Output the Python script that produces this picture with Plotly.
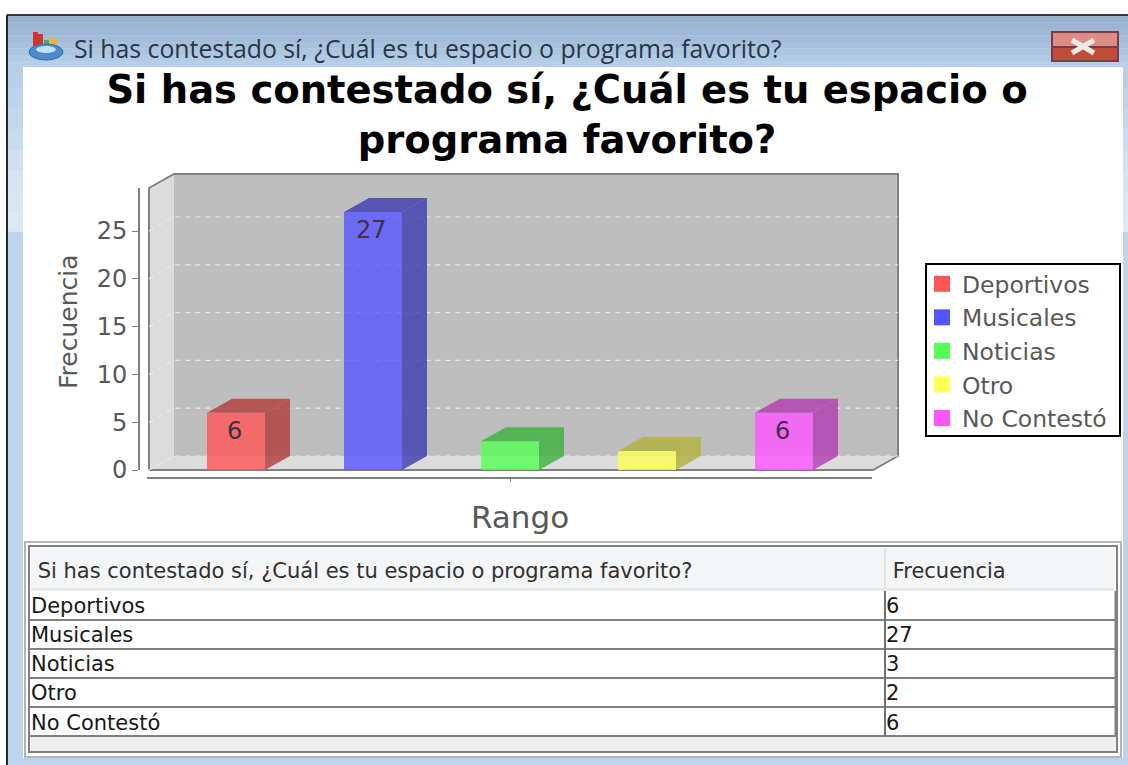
import plotly.graph_objects as go

# ---- data ----
categories = ["Deportivos", "Musicales", "Noticias", "Otro", "No Contestó"]
frecuencia = [6, 27, 3, 2, 6]
front_rgb = ["255,85,85", "85,85,255", "85,255,85", "255,255,85", "255,85,255"]
dark_rgb = ["178,59,59", "59,59,178", "59,178,59", "178,178,59", "178,59,178"]
y_ticks = [0, 5, 10, 15, 20, 25]
title_text = "Si has contestado sí, ¿Cuál es tu espacio o programa favorito?"
title_lines = "Si has contestado sí, ¿Cuál es tu espacio o<br>programa favorito?"
header_row = ["Si has contestado sí, ¿Cuál es tu espacio o programa favorito?", "Frecuencia"]

# ---- geometry ----
W, H = 1128, 765
FONT = "DejaVu Sans"
GREY = "#585858"
PX_CAT, PX_UNIT = 137.0, 9.56        # pixels per category / per value unit
X_ZERO_PX, Y_ZERO_PX = 236.0, 470.0  # pixel of first category / value 0
DX, DY = 25 / PX_CAT, 14 / PX_UNIT   # 3-D depth in data units
BAR_W = 58 / PX_CAT


def xdata(px):
    return (px - X_ZERO_PX) / PX_CAT


def ydata(px):
    return (Y_ZERO_PX - px) / PX_UNIT


def px(x):
    return x / W


def py(y):
    return 1 - y / H


X0, X1 = xdata(149), xdata(873)
Y_TOP = ydata(188)

fig = go.Figure()

shapes = []


def rect(x0, y0, x1, y1, fill, line=None, lw=0, layer="below"):
    shapes.append(dict(type="rect", xref="paper", yref="paper", x0=px(x0), x1=px(x1),
                       y0=py(y0), y1=py(y1), fillcolor=fill, layer=layer,
                       line=dict(color=line or fill, width=lw)))


def line(x0, y0, x1, y1, color, w=1, layer="below"):
    shapes.append(dict(type="line", xref="paper", yref="paper", x0=px(x0), x1=px(x1),
                       y0=py(y0), y1=py(y1), layer=layer, line=dict(color=color, width=w)))


# ---- window chrome ----
rect(6, 14, 1128, 765, "#BCD4EC")
band_cols = ["#98B2D0", "#9BB5D2", "#9FB8D5", "#A3BCD8", "#A8C1DC", "#ADC6E0", "#B2CBE5", "#B7D0E9"]
for i, c in enumerate(band_cols):
    rect(8, 16 + i * 6.5, 1128, 16 + (i + 1) * 6.5, c)
side_cols = ["#B7D0E9", "#BCD4EB", "#C2D8ED", "#C8DCEF", "#CEE0F1", "#D4E4F3", "#D9E7F4", "#DCE9F5"]
for i, c in enumerate(side_cols):
    rect(8, 67 + i * 20.6, 23, 67 + (i + 1) * 20.6, c)
    rect(1123, 67 + i * 20.6, 1128, 67 + (i + 1) * 20.6, c)
line(7, 15, 1128, 15, "#3A3A3A", 2)
line(7, 15, 7, 765, "#2A2A2A", 2)
rect(23, 67, 1123, 758, "#FFFFFF")

# icon
rect(33, 32, 38, 46, "#D83030")
rect(38, 34, 43, 46, "#C83838")
rect(44, 40, 49, 46, "#60A060")
rect(50, 38, 57, 46, "#F0B030")
shapes.append(dict(type="circle", xref="paper", yref="paper", x0=px(29), x1=px(63), y0=py(44), y1=py(60),
                   fillcolor="#4C8CCC", line=dict(color="#3070B0", width=1), layer="below"))
shapes.append(dict(type="circle", xref="paper", yref="paper", x0=px(36), x1=px(56), y0=py(46), y1=py(53),
                   fillcolor="#C4E0F4", line=dict(width=0), layer="below"))

# close button
rect(1052, 32, 1118, 47, "#DD8C84", "#7A3A48", 2)
rect(1052, 47, 1118, 61, "#C04C3A", "#7A3A48", 2)
line(1072, 40, 1094, 53, "#ECE8E4", 5)
line(1094, 40, 1072, 53, "#ECE8E4", 5)

# legend box
rect(926, 264, 1120, 436, "#FFFFFF", "#000000", 2)

# ---- table frame ----
rect(25, 542, 1121, 757, "#FFFFFF", "#B4B4B4", 2)
rect(29, 546, 1117, 752, "#FFFFFF", "#808080", 2)
rect(31, 548, 1115, 588, "#F3F5F7")
rect(31, 588, 1115, 591, "#E6E8EA")
rect(884, 548, 886, 588, "#E0E2E4")
rect(31, 737, 1116, 751, "#EEEEEE")
for y_line in [620, 649, 678, 707, 736]:
    line(30, y_line, 1116, y_line, "#808080", 2)
line(885, 591, 885, 736, "#707070", 2)
line(1116, 591, 1116, 736, "#808080", 3)

# ---- pseudo 3-D plot box, in data coordinates ----


def poly(pts, fill, lw=0, lc="#808080"):
    path = "M " + " L ".join(f"{a},{b}" for a, b in pts) + " Z"
    shapes.append(dict(type="path", xref="x", yref="y", path=path, fillcolor=fill, layer="below",
                       line=dict(color=lc, width=lw)))


def stroke(pts, color="#808080", lw=2, dash="solid"):
    path = "M " + " L ".join(f"{a},{b}" for a, b in pts)
    shapes.append(dict(type="path", xref="x", yref="y", path=path, layer="below",
                       line=dict(color=color, width=lw, dash=dash)))


poly([(X0 + DX, DY), (X1 + DX, DY), (X1 + DX, Y_TOP + DY), (X0 + DX, Y_TOP + DY)], "#BEBEBE")
poly([(X0, 0), (X0 + DX, DY), (X0 + DX, Y_TOP + DY), (X0, Y_TOP)], "#DCDCDC")
poly([(X0, 0), (X1, 0), (X1 + DX, DY), (X0 + DX, DY)], "#DCDCDC")
stroke([(X0, 0), (X0, Y_TOP), (X0 + DX, Y_TOP + DY), (X1 + DX, Y_TOP + DY), (X1 + DX, DY), (X1, 0), (X0, 0)])
for t in y_ticks:
    stroke([(X0, t), (X0 + DX, t + DY), (X1 + DX, t + DY)], "#E8E8E8", 1.2, "5px,5px")

# ---- bars ----
annotations = []
for i, (cat, v) in enumerate(zip(categories, frecuencia)):
    left, right = i - BAR_W / 2, i + BAR_W / 2
    dark = f"rgba({dark_rgb[i]},0.8)"
    fig.add_trace(go.Scatter(x=[right, right + DX, right + DX, right, right],
                             y=[0, DY, v + DY, v, 0], fill="toself", fillcolor=dark,
                             mode="lines", line=dict(width=0), showlegend=False, hoverinfo="skip"))
    fig.add_trace(go.Scatter(x=[left, left + DX, right + DX, right, left],
                             y=[v, v + DY, v + DY, v, v], fill="toself", fillcolor=dark,
                             mode="lines", line=dict(width=0), showlegend=False, hoverinfo="skip"))
    fig.add_trace(go.Bar(x=[i], y=[v], width=BAR_W, marker=dict(color=f"rgba({front_rgb[i]},0.8)", line=dict(width=0)),
                         showlegend=False, name=cat))
    if v >= 5:
        annotations.append(dict(x=i, y=v, xref="x", yref="y", text=str(v), showarrow=False, yshift=-18, xshift=-2,
                                font=dict(family=FONT, size=24, color="#403048")))

# legend entries + outer axes
for i, cat in enumerate(categories):
    fig.add_trace(go.Scatter(x=[None], y=[None], xaxis="x2", yaxis="y2", mode="markers", name=cat,
                             legendgroup=cat,
                             marker=dict(symbol="square", size=16, color=f"rgb({front_rgb[i]})")))

# ---- table ----
fig.add_trace(go.Table(
    domain=dict(x=[px(23), px(1116)], y=[py(745), py(554)]),
    columnwidth=[855, 238],
    header=dict(values=["\u00a0" + header_row[0], "\u00a0" + header_row[1]], height=35,
                align="left", fill_color="rgba(0,0,0,0)", line=dict(width=0, color="rgba(0,0,0,0)"),
                font=dict(family=FONT, size=21, color="#303030")),
    cells=dict(values=[categories, frecuencia], height=29.2, align="left",
               fill_color="rgba(0,0,0,0)", line=dict(width=0, color="rgba(0,0,0,0)"),
               font=dict(family=FONT, size=21, color="#181818")),
))

annotations.append(dict(x=px(72), y=py(48), xref="paper", yref="paper", xanchor="left", yanchor="middle",
                        text=title_text, showarrow=False,
                        font=dict(family="Open Sans", size=24.8, color="#2B3548")))
annotations.append(dict(x=px(520), y=py(517), xref="paper", yref="paper", xanchor="center", yanchor="middle",
                        text="Rango", showarrow=False, font=dict(family=FONT, size=31, color=GREY)))
annotations.append(dict(x=px(68), y=py(322), xref="paper", yref="paper", xanchor="center", yanchor="middle",
                        text="Frecuencia", textangle=-90, showarrow=False,
                        font=dict(family=FONT, size=25, color=GREY)))

fig.update_layout(
    width=W, height=H, autosize=False, margin=dict(l=0, r=0, t=0, b=0, autoexpand=False),
    paper_bgcolor="#FFFFFF", plot_bgcolor="rgba(0,0,0,0)", bargap=0, barmode="overlay",
    shapes=shapes, annotations=annotations,
    title=dict(text=title_lines, x=567 / W, xanchor="center", y=py(103), yanchor="top",
               font=dict(family=FONT, size=38.5, color="#000000", weight="bold")),
    xaxis=dict(domain=[px(146), px(901)], range=[xdata(146), xdata(901)], visible=False, fixedrange=True),
    yaxis=dict(domain=[py(472), py(171)], range=[ydata(472), ydata(171)], visible=False, fixedrange=True),
    xaxis2=dict(domain=[px(147), px(872)], range=[xdata(147), xdata(872)], anchor="free",
                position=py(478), showline=True, linecolor="#808080", linewidth=2, side="bottom",
                tickmode="array", tickvals=[2], ticktext=[""], ticks="outside", ticklen=3, tickcolor="#808080",
                showgrid=False, zeroline=False),
    yaxis2=dict(domain=[py(470), py(188)], range=[0, Y_TOP], anchor="free",
                position=px(139), showline=True, linecolor="#808080", linewidth=2, side="left",
                tickmode="array", tickvals=y_ticks, ticks="outside", ticklen=6, tickcolor="#808080",
                showgrid=False, zeroline=False, tickfont=dict(family=FONT, size=24, color=GREY)),
    legend=dict(x=px(922), y=py(262), xanchor="left", yanchor="top", borderwidth=0,
                bgcolor="rgba(0,0,0,0)", tracegroupgap=0, traceorder="grouped",
                font=dict(family=FONT, size=23.5, color=GREY)),
)

fig.write_html("out.html", config=dict(displayModeBar=False),
               post_script="document.body.style.margin='0';document.body.style.overflow='hidden';")
